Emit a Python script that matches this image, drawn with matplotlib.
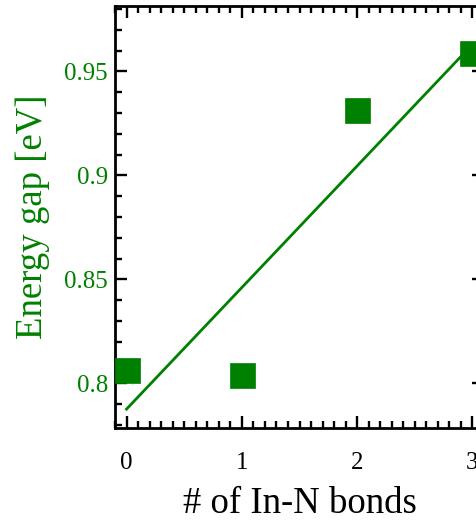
import numpy as np
import matplotlib
matplotlib.use("Agg")
import matplotlib.pyplot as plt
from matplotlib.ticker import MultipleLocator

plt.rcParams['font.family'] = ['Liberation Serif', 'DejaVu Serif']
plt.rcParams['mathtext.fontset'] = 'stix'

# data
n_bonds = [0, 1, 2, 3]
energy_gap = [0.8066, 0.8040, 0.9317, 0.9590]
x_ticks = [0, 1, 2, 3]
y_ticks = [0.8, 0.85, 0.9, 0.95]
y_tick_labels = ["0.8", "0.85", "0.9", "0.95"]

green = "#008000"

fig = plt.figure(figsize=(4.77, 5.21), dpi=100)
# the right edge of the axes runs past the figure, as in the reference
ax = fig.add_axes([115 / 477, 93 / 521, 369 / 477, 422 / 521])

# linear fit through the points
coef = np.polyfit(n_bonds, energy_gap, 1)
xf = np.array([n_bonds[0], n_bonds[-1]])
ax.plot(xf, np.polyval(coef, xf), color=green, lw=2.0, zorder=2)
ax.plot(n_bonds, energy_gap, "s", color=green, ms=18, mec=green, mew=0.5,
        zorder=3, clip_on=False)

ax.set_xlim(-0.1, 3.1)
ax.set_ylim(0.7785, 0.9815)
ax.set_xticks(x_ticks)
ax.set_yticks(y_ticks)
ax.set_yticklabels(y_tick_labels)
ax.xaxis.set_minor_locator(MultipleLocator(0.1))
ax.yaxis.set_minor_locator(MultipleLocator(0.01))

ax.tick_params(which="both", direction="in", top=True, right=True, width=1.7)
ax.tick_params(which="major", length=8.5)
ax.tick_params(which="minor", length=5)
ax.tick_params(axis="x", labelsize=18, pad=17)
ax.tick_params(axis="y", labelsize=18, pad=5, labelcolor=green)
for s in ax.spines.values():
    s.set_linewidth(2)

ax.set_xlabel("# of In-N bonds", fontsize=26.5, labelpad=9)
ax.set_ylabel("Energy gap [eV]", fontsize=26.5, color=green, labelpad=10)

fig.savefig("out.png", dpi=100)
